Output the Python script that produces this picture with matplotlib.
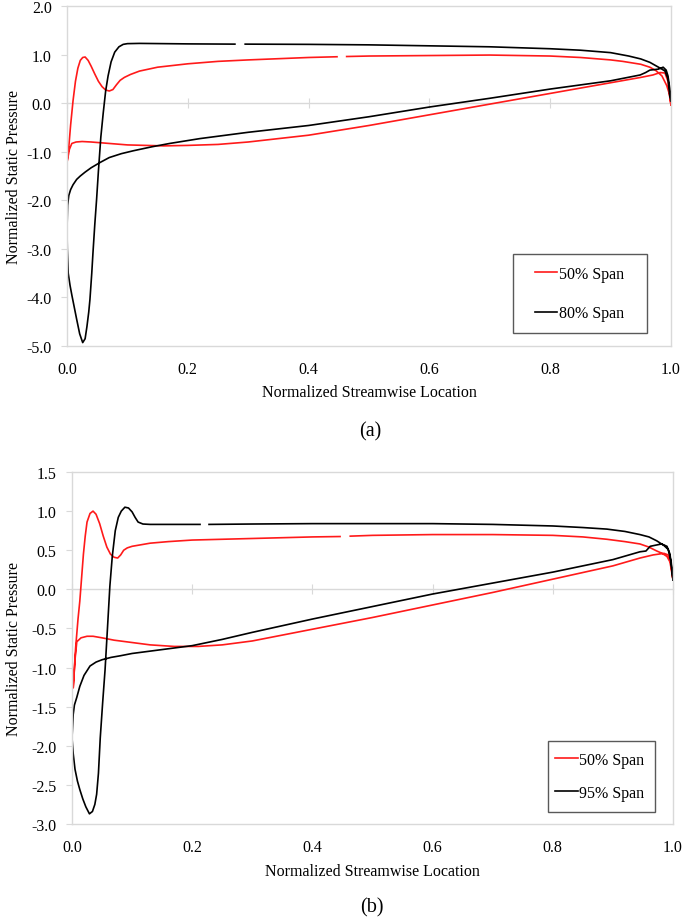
import numpy as np
import matplotlib.pyplot as plt
from matplotlib.patches import Rectangle

plt.rcParams['font.family'] = ['Liberation Serif', 'DejaVu Serif']
plt.rcParams['axes.unicode_minus'] = False

nan = np.nan

# ---- panel (a): 50% span ----
a50_up_x = [0.0, 0.003, 0.006, 0.01, 0.014, 0.018, 0.022, 0.026, 0.03, 0.035, 0.04, 0.046, 0.052, 0.058,
            0.064, 0.07, 0.076, 0.082, 0.088, 0.095, 0.105, 0.12, 0.15, 0.2, 0.25, 0.3, 0.4, 0.447, nan,
            0.463, 0.5, 0.6, 0.7, 0.8, 0.85, 0.9, 0.92, 0.95, 0.965, 0.975, 0.985, 0.993, 0.997, 1.0]
a50_up_y = [-1.22, -0.9, -0.45, 0.05, 0.45, 0.72, 0.88, 0.94, 0.95, 0.88, 0.76, 0.6, 0.45, 0.34,
            0.27, 0.25, 0.28, 0.38, 0.47, 0.53, 0.59, 0.66, 0.74, 0.81, 0.86, 0.89, 0.94, 0.955, nan,
            0.96, 0.97, 0.98, 0.99, 0.97, 0.94, 0.89, 0.86, 0.8, 0.74, 0.67, 0.56, 0.36, 0.2, -0.04]
a50_lo_x = [0.0, 0.004, 0.008, 0.015, 0.025, 0.04, 0.06, 0.08, 0.1, 0.13, 0.16, 0.2, 0.25, 0.3, 0.35,
            0.4, 0.5, 0.6, 0.7, 0.8, 0.9, 0.95, 0.97, 0.982, 0.99, 0.995, 1.0]
a50_lo_y = [-1.22, -0.95, -0.83, -0.8, -0.79, -0.8, -0.82, -0.84, -0.86, -0.87, -0.88, -0.87, -0.85,
            -0.8, -0.73, -0.66, -0.46, -0.24, -0.02, 0.2, 0.42, 0.53, 0.58, 0.63, 0.62, 0.45, -0.04]

# ---- panel (a): 80% span ----
a80_up_x = [0.0, 0.0005, 0.002, 0.005, 0.008, 0.012, 0.016, 0.021, 0.026, 0.03, 0.033, 0.036, 0.038,
            0.041, 0.043, 0.046, 0.049, 0.052, 0.056, 0.06, 0.064, 0.068, 0.073, 0.079, 0.086, 0.093,
            0.1, 0.12, 0.2, 0.278, nan, 0.295, 0.4, 0.5, 0.6, 0.7, 0.8, 0.85, 0.9, 0.93, 0.95, 0.965,
            0.975, 0.985, 0.99, 0.995, 0.998, 1.0]
a80_up_y = [-2.6, -3.0, -3.5, -3.75, -3.95, -4.2, -4.45, -4.75, -4.93, -4.85, -4.6, -4.3, -4.04,
            -3.5, -3.08, -2.5, -1.98, -1.4, -0.7, -0.2, 0.25, 0.56, 0.85, 1.05, 1.16, 1.21,
            1.225, 1.23, 1.22, 1.215, nan, 1.215, 1.21, 1.2, 1.18, 1.16, 1.12, 1.09, 1.04, 0.97, 0.91, 0.84,
            0.77, 0.7, 0.66, 0.5, 0.15, 0.05]
a80_lo_x = [0.0, 0.001, 0.003, 0.006, 0.01, 0.016, 0.022, 0.03, 0.04, 0.055, 0.07, 0.09, 0.11, 0.14,
            0.17, 0.22, 0.3, 0.4, 0.5, 0.6, 0.7, 0.8, 0.9, 0.949, 0.958, 0.965, 0.979, 0.987, 0.992,
            0.995, 0.998, 1.0]
a80_lo_y = [-2.6, -2.1, -1.9, -1.78, -1.68, -1.57, -1.5, -1.42, -1.33, -1.22, -1.12, -1.04, -0.98,
            -0.9, -0.83, -0.73, -0.6, -0.46, -0.28, -0.08, 0.1, 0.29, 0.46, 0.58, 0.63, 0.68, 0.7, 0.74,
            0.68, 0.56, 0.3, 0.05]

# ---- panel (b): 50% span ----
b50_up_x = [0.002, 0.006, 0.01, 0.013, 0.016, 0.019, 0.022, 0.025, 0.03, 0.035, 0.04, 0.046, 0.052,
            0.058, 0.064, 0.07, 0.076, 0.081, 0.086, 0.092, 0.1, 0.115, 0.13, 0.16, 0.2, 0.3, 0.4, 0.446,
            nan, 0.463, 0.5, 0.6, 0.7, 0.8, 0.85, 0.89, 0.92, 0.945, 0.96, 0.973, 0.982, 0.99, 0.995, 1.0]
b50_up_y = [-1.26, -0.75, -0.38, -0.15, 0.15, 0.45, 0.68, 0.86, 0.97, 1.0, 0.96, 0.84, 0.68, 0.54,
            0.45, 0.41, 0.4, 0.44, 0.5, 0.53, 0.55, 0.57, 0.59, 0.61, 0.63, 0.65, 0.67, 0.675,
            nan, 0.68, 0.69, 0.7, 0.7, 0.69, 0.67, 0.64, 0.61, 0.58, 0.54, 0.49, 0.46, 0.42, 0.35, 0.12]
b50_lo_x = [0.002, 0.005, 0.008, 0.015, 0.025, 0.035, 0.05, 0.07, 0.1, 0.13, 0.17, 0.21, 0.25, 0.3,
            0.4, 0.5, 0.6, 0.7, 0.8, 0.9, 0.945, 0.967, 0.985, 0.992, 0.996, 1.0]
b50_lo_y = [-1.26, -0.9, -0.67, -0.62, -0.6, -0.6, -0.62, -0.65, -0.68, -0.71, -0.73, -0.73, -0.71,
            -0.66, -0.51, -0.36, -0.2, -0.04, 0.13, 0.3, 0.4, 0.44, 0.46, 0.44, 0.35, 0.12]

# ---- panel (b): 95% span ----
b95_up_x = [0.0, 0.002, 0.005, 0.009, 0.013, 0.018, 0.023, 0.029, 0.034, 0.038, 0.041, 0.044, 0.047,
            0.051, 0.055, 0.059, 0.063, 0.067, 0.072, 0.077, 0.082, 0.088, 0.094, 0.1, 0.105, 0.11,
            0.118, 0.13, 0.16, 0.2, 0.213, nan, 0.228, 0.3, 0.4, 0.5, 0.6, 0.7, 0.8, 0.85, 0.89, 0.92,
            0.945, 0.96, 0.973, 0.985, 0.992, 0.997, 1.0]
b95_up_y = [-1.9, -2.1, -2.3, -2.45, -2.56, -2.68, -2.78, -2.87, -2.84, -2.75, -2.62, -2.35, -1.9,
            -1.45, -1.03, -0.5, 0.04, 0.42, 0.75, 0.92, 1.0, 1.05, 1.04, 0.99, 0.92, 0.86,
            0.835, 0.83, 0.83, 0.83, 0.83, nan, 0.83, 0.835, 0.84, 0.84, 0.84, 0.83, 0.81, 0.79, 0.77, 0.74,
            0.7, 0.67, 0.62, 0.56, 0.51, 0.35, 0.12]
b95_lo_x = [0.0, 0.002, 0.004, 0.008, 0.013, 0.02, 0.03, 0.04, 0.05, 0.065, 0.08, 0.1, 0.13, 0.16,
            0.2, 0.25, 0.3, 0.4, 0.5, 0.6, 0.7, 0.8, 0.9, 0.945, 0.955, 0.962, 0.981, 0.99, 0.995,
            0.998, 1.0]
b95_lo_y = [-1.9, -1.6, -1.48, -1.38, -1.24, -1.1, -0.98, -0.93, -0.9, -0.87, -0.85, -0.82, -0.79,
            -0.76, -0.72, -0.64, -0.55, -0.38, -0.22, -0.06, 0.08, 0.22, 0.38, 0.48, 0.49, 0.55, 0.58,
            0.55, 0.45, 0.25, 0.12]

x_ticks = [0.0, 0.2, 0.4, 0.6, 0.8, 1.0]
a_yticks = [2.0, 1.0, 0.0, -1.0, -2.0, -3.0, -4.0, -5.0]
b_yticks = [1.5, 1.0, 0.5, 0.0, -0.5, -1.0, -1.5, -2.0, -2.5, -3.0]

GRAY = '#d9d9d9'
RED = '#ff1a1a'
FS = 11.5


def loop(up_x, up_y, lo_x, lo_y):
    # trailing edge -> suction side -> leading edge -> pressure side -> trailing edge
    x = np.r_[np.array(up_x)[::-1], np.array(lo_x)]
    y = np.r_[np.array(up_y)[::-1], np.array(lo_y)]
    return x, y


def draw_panel(ax, curves, labels, yticks, leg_anchor, leg_space, box):
    for (ux, uy, lx, ly), lab, col in zip(curves, labels, [RED, 'black']):
        x, y = loop(ux, uy, lx, ly)
        ax.plot(x, y, color=col, lw=1.2, label=lab)
    ymin, ymax = min(yticks), max(yticks)
    ax.set_xlim(0, 1)
    ax.set_ylim(ymin, ymax)
    ax.set_xticks(x_ticks)
    ax.set_xticklabels(['%.1f' % t for t in x_ticks], fontsize=FS)
    ax.set_yticks(yticks)
    ax.set_yticklabels(['%.1f' % t for t in yticks], fontsize=FS)
    ax.tick_params(axis='x', length=0, pad=11)
    ax.tick_params(axis='y', direction='out', length=4, color=GRAY, pad=7)
    for s in ax.spines.values():
        s.set_color(GRAY)
        s.set_linewidth(1.0)

    # horizontal axis line at zero with crossing tick marks
    sec = ax.secondary_xaxis((0 - ymin) / (ymax - ymin))
    sec.set_xticks(x_ticks)
    sec.tick_params(axis='x', direction='inout', length=7, color=GRAY,
                    labeltop=False, labelbottom=False)
    for s in sec.spines.values():
        s.set_color(GRAY)
        s.set_linewidth(1.0)

    # legend entries without frame, excel-like box drawn separately
    ax.legend(loc='center left', bbox_to_anchor=leg_anchor, fontsize=FS, frameon=False,
              borderpad=0, labelspacing=leg_space, handlelength=1.4, handletextpad=0.1,
              borderaxespad=0)
    ax.add_patch(Rectangle(box[:2], box[2], box[3], transform=ax.transAxes, fill=True,
                           facecolor='none', edgecolor='#595959', lw=1.0, zorder=5))


fig = plt.figure(figsize=(6.85, 9.2), dpi=100)
W, H = 685.0, 920.0

ax1 = fig.add_axes([67 / W, 1 - 347 / H, 604 / W, 340 / H])
draw_panel(ax1,
           [(a50_up_x, a50_up_y, a50_lo_x, a50_lo_y), (a80_up_x, a80_up_y, a80_lo_x, a80_lo_y)],
           ['50% Span', '80% Span'], a_yticks, (0.775, 0.154), 1.45,
           (0.738, 0.038, 0.222, 0.232))
ax1.set_ylabel('Normalized Static Pressure', fontsize=FS)
ax1.yaxis.set_label_coords((22 - 67) / 604, 0.5)
fig.text(369 / W, 1 - 393 / H, 'Normalized Streamwise Location', ha='center', va='center', fontsize=FS)
fig.text(370 / W, 1 - 432 / H, '(a)', ha='center', va='center', fontsize=14.5)

ax2 = fig.add_axes([72 / W, 1 - 825 / H, 601 / W, 352 / H])
draw_panel(ax2,
           [(b50_up_x, b50_up_y, b50_lo_x, b50_lo_y), (b95_up_x, b95_up_y, b95_lo_x, b95_lo_y)],
           ['50% Span', '95% Span'], b_yticks, (0.804, 0.136), 1.05,
           (0.792, 0.034, 0.178, 0.202))
ax2.set_ylabel('Normalized Static Pressure', fontsize=FS)
ax2.yaxis.set_label_coords((22 - 72) / 601, 0.5)
fig.text(372 / W, 1 - 872 / H, 'Normalized Streamwise Location', ha='center', va='center', fontsize=FS)
fig.text(372 / W, 1 - 908 / H, '(b)', ha='center', va='center', fontsize=14.5)

fig.savefig('out.png', dpi=100)
